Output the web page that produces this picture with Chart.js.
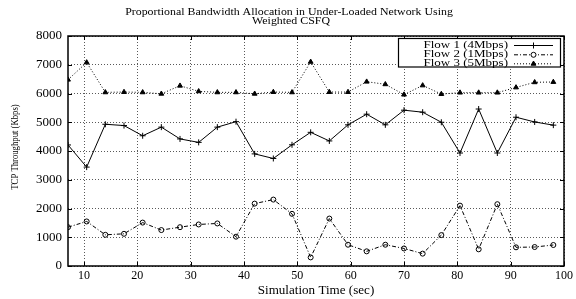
<!DOCTYPE html>
<html>
<head>
<meta charset="utf-8">
<script src="https://cdn.jsdelivr.net/npm/chart.js@4.4.0/dist/chart.umd.min.js"></script>
<style>
  html, body { margin: 0; padding: 0; background: #fff; }
  #wrap { width: 576px; height: 299px; position: relative; }
</style>
</head>
<body>
<div id="wrap"><canvas id="c"></canvas></div>
<script>
const titleLines = ["Proportional Bandwidth Allocation in Under-Loaded Network Using", "Weighted CSFQ"];
const xTitle = "Simulation Time (sec)";
const yTitle = "TCP Throughput (Kbps)";
const seriesNames = ["Flow 1 (4Mbps)", "Flow 2 (1Mbps)", "Flow 3 (5Mbps)"];
const times = [7, 10.5, 14, 17.5, 21, 24.5, 28, 31.5, 35, 38.5, 42, 45.5, 49, 52.5, 56, 59.5, 63, 66.5, 70, 73.5, 77, 80.5, 84, 87.5, 91, 94.5, 98];
const flow1 = [4210, 3440, 4930, 4885, 4530, 4830, 4420, 4300, 4830, 5020, 3900, 3740, 4215, 4650, 4350, 4910, 5280, 4910, 5420, 5350, 5000, 3930, 5460, 3930, 5175, 5010, 4900];
const flow2 = [1350, 1550, 1085, 1120, 1510, 1250, 1350, 1445, 1480, 1020, 2170, 2310, 1815, 300, 1650, 740, 510, 740, 610, 430, 1075, 2100, 580, 2150, 650, 660, 730];
const flow3 = [6480, 7080, 6040, 6050, 6040, 5990, 6270, 6075, 6040, 6040, 5990, 6050, 6040, 7100, 6050, 6050, 6410, 6320, 5960, 6280, 5980, 6030, 6030, 6030, 6210, 6390, 6400];
const xTicks = [10, 20, 30, 40, 50, 60, 70, 80, 90, 100];
const yTicks = [0, 1000, 2000, 3000, 4000, 5000, 6000, 7000, 8000];

const SERIF = "'Liberation Serif', 'Times New Roman', serif";

function pts(arr) { return times.map((t, i) => ({ x: t, y: arr[i] })); }

const styles = [
  { borderDash: [], pointStyle: 'cross', pointRadius: 3, fill: 'rgba(0,0,0,0)' },
  { borderDash: [4, 2, 1, 2], pointStyle: 'circle', pointRadius: 2.5, fill: 'rgba(0,0,0,0)' },
  { borderDash: [1, 2], pointStyle: 'triangle', pointRadius: 2.8, fill: '#000' }
];
const seriesData = [flow1, flow2, flow3];

const datasets = seriesData.map((d, i) => ({
  label: seriesNames[i],
  data: pts(d),
  borderColor: '#000',
  borderWidth: 1,
  borderDash: styles[i].borderDash,
  pointStyle: styles[i].pointStyle,
  pointRadius: styles[i].pointRadius,
  pointBorderColor: '#000',
  pointBackgroundColor: styles[i].fill,
  pointBorderWidth: 1,
  tension: 0,
  fill: false
}));

function stretchedText(ctx, text, x, y, sx, rot) {
  ctx.save();
  ctx.translate(x, y);
  if (rot) ctx.rotate(rot);
  ctx.scale(sx, 1);
  ctx.fillText(text, 0, 0);
  ctx.restore();
}

const framePlugin = {
  id: 'frame',
  beforeDraw(chart) {
    const ctx = chart.ctx;
    ctx.save();
    ctx.fillStyle = '#fff';
    ctx.fillRect(0, 0, chart.width, chart.height);
    ctx.fillStyle = '#000';
    ctx.font = '11px ' + SERIF;
    ctx.textAlign = 'center';
    ctx.textBaseline = 'middle';
    stretchedText(ctx, titleLines[0], 289, 12, 1.08);
    stretchedText(ctx, titleLines[1], 291, 21, 1.08);
    const a = chart.chartArea;
    ctx.font = '12px ' + SERIF;
    stretchedText(ctx, xTitle, (a.left + a.right) / 2, 291, 1.09);
    ctx.font = '11px ' + SERIF;
    stretchedText(ctx, yTitle, 15, 147, 0.79, -Math.PI / 2);
    ctx.restore();
  },
  afterDatasetsDraw(chart) {
    const ctx = chart.ctx;
    const a = chart.chartArea;
    const xs = chart.scales.x, ys = chart.scales.y;
    ctx.save();
    ctx.strokeStyle = '#000';
    ctx.lineWidth = 1;
    ctx.setLineDash([]);
    // inward tick marks
    ctx.beginPath();
    xTicks.forEach(v => {
      const px = Math.round(xs.getPixelForValue(v)) + 0.5;
      ctx.moveTo(px, a.bottom); ctx.lineTo(px, a.bottom - 4);
      ctx.moveTo(px, a.top); ctx.lineTo(px, a.top + 4);
    });
    yTicks.forEach(v => {
      const py = Math.round(ys.getPixelForValue(v)) + 0.5;
      ctx.moveTo(a.left, py); ctx.lineTo(a.left + 4, py);
      ctx.moveTo(a.right, py); ctx.lineTo(a.right - 4, py);
    });
    ctx.stroke();
    // legend
    const bx = 398.5, by = 38.5, bw = 162, bh = 28.5;
    ctx.fillStyle = '#fff';
    ctx.fillRect(bx, by, bw, bh);
    ctx.lineWidth = 1.2;
    ctx.strokeRect(bx, by, bw, bh);
    ctx.font = '10px ' + SERIF;
    ctx.textAlign = 'right';
    ctx.textBaseline = 'middle';
    const rows = [45, 54.3, 63.3];
    datasets.forEach((ds, i) => {
      const y = rows[i];
      ctx.fillStyle = '#000';
      stretchedText(ctx, ds.label, 508, y, 1.3);
      ctx.lineWidth = 1;
      ctx.strokeStyle = '#000';
      ctx.setLineDash(ds.borderDash);
      ctx.beginPath();
      ctx.moveTo(514, y + 0.5); ctx.lineTo(553, y + 0.5);
      ctx.stroke();
      ctx.setLineDash([]);
      ctx.fillStyle = ds.pointBackgroundColor;
      ctx.strokeStyle = '#000';
      if (ds.pointStyle === 'circle') {
        ctx.fillStyle = '#fff';
        ctx.beginPath();
        ctx.arc(533.5, y + 0.5, ds.pointRadius, 0, Math.PI * 2);
        ctx.fill();
        ctx.stroke();
      } else {
        Chart.helpers.drawPoint(ctx, {
          pointStyle: ds.pointStyle, radius: ds.pointRadius, rotation: 0, borderWidth: 1
        }, 533.5, y + 0.5);
      }
    });
    // frame
    ctx.lineWidth = 1.5;
    ctx.strokeStyle = '#000';
    ctx.strokeRect(a.left, a.top, a.right - a.left, a.bottom - a.top);
    ctx.restore();
  }
};

new Chart(document.getElementById('c'), {
  type: 'line',
  data: { datasets },
  options: {
    responsive: true,
    maintainAspectRatio: false,
    devicePixelRatio: 1,
    animation: false,
    layout: { padding: { top: 36, right: 7, bottom: 0, left: 0 } },
    plugins: { legend: { display: false }, title: { display: false }, tooltip: { enabled: false } },
    scales: {
      x: {
        type: 'linear',
        min: 7,
        max: 100,
        afterFit(s) { s.height = 33; },
        afterBuildTicks(s) { s.ticks = xTicks.map(v => ({ value: v })); },
        grid: { color: 'rgba(0,0,0,0.65)', drawTicks: false, tickLength: 0 },
        border: { display: false, dash: [1, 2] },
        ticks: { padding: 3, color: '#000', font: { family: SERIF, size: 12 }, maxRotation: 0, autoSkip: false, callback: v => String(v) },
        title: { display: false }
      },
      y: {
        type: 'linear',
        min: 0,
        max: 8000,
        afterFit(s) { s.width = 68; },
        afterBuildTicks(s) { s.ticks = yTicks.map(v => ({ value: v })); },
        grid: { color: 'rgba(0,0,0,0.65)', drawTicks: false, tickLength: 0 },
        border: { display: false, dash: [1, 2] },
        ticks: { padding: 6, color: '#000', font: { family: SERIF, size: 13 }, autoSkip: false, callback: v => String(v) },
        title: { display: false }
      }
    }
  },
  plugins: [framePlugin]
});
</script>
</body>
</html>
